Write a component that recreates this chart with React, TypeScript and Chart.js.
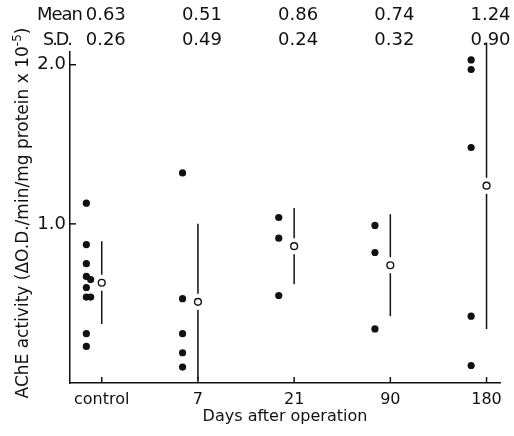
import React, { useEffect, useRef } from "react";
import { Chart, registerables } from "chart.js";

Chart.register(...registerables);

// ---- data ----
const CATEGORIES = ["control", "7", "21", "90", "180"];
const CONTROL = [1.13, 0.87, 0.75, 0.67, 0.65, 0.6, 0.54, 0.54, 0.31, 0.23];
const DAY7 = [1.32, 0.53, 0.31, 0.19, 0.1];
const DAY21 = [1.04, 0.91, 0.55];
const DAY90 = [0.99, 0.82, 0.34];
const DAY180 = [2.03, 1.97, 1.48, 0.42, 0.11];
const MEANS = [0.63, 0.51, 0.86, 0.74, 1.24];
const SDS = [0.26, 0.49, 0.24, 0.32, 0.9];
const Y_TICKS = [1.0, 2.0];

const GROUPS = [CONTROL, DAY7, DAY21, DAY90, DAY180];

const FONT = "'DejaVu Sans', sans-serif";
const INK = "#111";

// individual points slightly left of each category, near-duplicates nudged apart
const DOT_OFFSET = -0.16;
const DUP_SHIFT = 0.045;

function buildDots() {
  const pts: { x: number; y: number }[] = [];
  GROUPS.forEach((vals, i) => {
    vals.forEach((v, j) => {
      const near = j > 0 && Math.abs(vals[j - 1] - v) <= 0.03;
      pts.push({ x: i + DOT_OFFSET + (near ? DUP_SHIFT : 0), y: v });
    });
  });
  return pts;
}

const overlay = {
  id: "overlay",
  beforeDatasetsDraw(chart: any) {
    const { ctx, scales } = chart;
    const xs = scales.x;
    const ys = scales.y;
    ctx.save();
    ctx.strokeStyle = INK;
    ctx.lineWidth = 1.5;
    const gap = 8;
    MEANS.forEach((m, i) => {
      const px = xs.getPixelForValue(i);
      const pm = ys.getPixelForValue(m);
      const top = ys.getPixelForValue(m + SDS[i]);
      const bot = ys.getPixelForValue(Math.max(0, m - SDS[i]));
      ctx.beginPath();
      ctx.moveTo(px, top);
      ctx.lineTo(px, pm - gap);
      ctx.moveTo(px, pm + gap);
      ctx.lineTo(px, bot);
      ctx.stroke();
    });
    ctx.restore();
  },
  afterDraw(chart: any) {
    const { ctx, scales, chartArea } = chart;
    const xs = scales.x;
    const ys = scales.y;
    ctx.save();
    ctx.strokeStyle = INK;
    ctx.lineWidth = 1.5;
    // inward tick marks
    Y_TICKS.forEach((v) => {
      const py = ys.getPixelForValue(v);
      ctx.beginPath();
      ctx.moveTo(chartArea.left, py);
      ctx.lineTo(chartArea.left + 6, py);
      ctx.stroke();
    });
    CATEGORIES.forEach((_, i) => {
      const px = xs.getPixelForValue(i);
      ctx.beginPath();
      ctx.moveTo(px, chartArea.bottom);
      ctx.lineTo(px, chartArea.bottom - 6);
      ctx.stroke();
    });

    // Mean / S.D. rows
    ctx.fillStyle = INK;
    ctx.font = `18px ${FONT}`;
    ctx.textBaseline = "middle";
    ctx.textAlign = "left";
    ctx.letterSpacing = "-1px";
    ctx.fillText("Mean", 37, 15, 45);
    ctx.letterSpacing = "-2px";
    ctx.fillText("S.D.", 43, 40, 28);
    ctx.letterSpacing = "0px";
    ctx.textAlign = "center";
    MEANS.forEach((m, i) => {
      const px = xs.getPixelForValue(i) + 4;
      ctx.fillText(m.toFixed(2), px, 15);
      ctx.fillText(SDS[i].toFixed(2), px, 40);
    });

    // y-axis title with superscript
    const main = "AChE activity (\u0394O.D./min/mg protein x 10";
    const sup = "-5";
    const end = ")";
    ctx.translate(24, 213);
    ctx.rotate(-Math.PI / 2);
    ctx.font = `17px ${FONT}`;
    const wMain = ctx.measureText(main).width;
    const wEnd = ctx.measureText(end).width;
    ctx.font = `12px ${FONT}`;
    const wSup = ctx.measureText(sup).width;
    const total = wMain + wSup + wEnd;
    let x0 = -total / 2;
    ctx.textAlign = "left";
    ctx.textBaseline = "middle";
    ctx.font = `17px ${FONT}`;
    ctx.fillText(main, x0, 0);
    x0 += wMain;
    ctx.font = `12px ${FONT}`;
    ctx.fillText(sup, x0, -6);
    x0 += wSup;
    ctx.font = `17px ${FONT}`;
    ctx.fillText(end, x0, 0);
    ctx.restore();
  },
};

export default function App() {
  const ref = useRef<HTMLCanvasElement | null>(null);

  useEffect(() => {
    const canvas = ref.current;
    if (!canvas) return;
    const chart = new Chart(canvas, {
      type: "scatter",
      data: {
        datasets: [
          {
            label: "individual",
            data: buildDots(),
            pointRadius: 3.6,
            pointHoverRadius: 3.6,
            backgroundColor: INK,
            borderWidth: 0,
          },
          {
            label: "mean",
            data: MEANS.map((m, i) => ({ x: i, y: m })),
            pointRadius: 3.4,
            pointHoverRadius: 3.4,
            backgroundColor: "#fff",
            borderColor: INK,
            borderWidth: 1.4,
          },
        ],
      },
      options: {
        responsive: false,
        animation: false,
        devicePixelRatio: 1,
        layout: { padding: { top: 52, right: 14, bottom: 0, left: 0 } },
        plugins: {
          legend: { display: false },
          tooltip: { enabled: false },
        },
        scales: {
          x: {
            type: "linear",
            min: -0.33,
            max: 4.14,
            grid: { display: false, drawTicks: false },
            border: { display: true, color: INK, width: 1.5 },
            afterBuildTicks: (s: any) => {
              s.ticks = CATEGORIES.map((_, i) => ({ value: i }));
            },
            afterFit: (s: any) => {
              s.height = 53;
            },
            ticks: {
              autoSkip: false,
              maxRotation: 0,
              padding: 7,
              color: INK,
              font: { family: FONT, size: 16 },
              callback: (v: any) => CATEGORIES[v as number] ?? "",
            },
            title: {
              display: true,
              text: "Days after operation",
              color: INK,
              font: { family: FONT, size: 16 },
              padding: { top: 0, bottom: 10 },
            },
          },
          y: {
            type: "linear",
            min: 0,
            max: 2.08,
            grid: { display: false, drawTicks: false },
            border: { display: true, color: INK, width: 1.5 },
            afterBuildTicks: (s: any) => {
              s.ticks = Y_TICKS.map((v) => ({ value: v }));
            },
            afterFit: (s: any) => {
              s.width = 70;
            },
            ticks: {
              padding: 4,
              color: INK,
              font: { family: FONT, size: 18 },
              callback: (v: any) => Number(v).toFixed(1),
            },
          },
        },
      },
      plugins: [overlay],
    });
    return () => chart.destroy();
  }, []);

  return (
    <div style={{ position: "absolute", left: 0, top: 0, width: 514, height: 436, background: "#fff" }}>
      <canvas ref={ref} width={514} height={436} style={{ display: "block" }} />
    </div>
  );
}
